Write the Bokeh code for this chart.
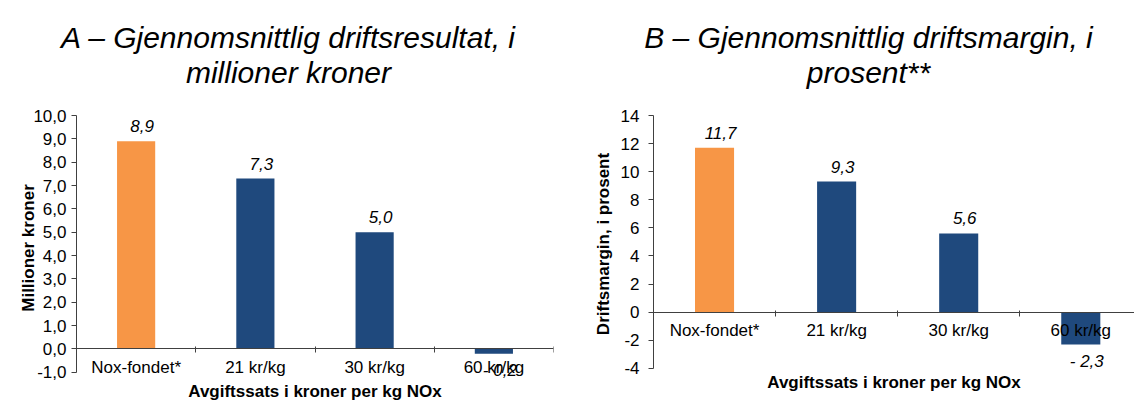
from bokeh.plotting import figure
from bokeh.models import ColumnDataSource, Range1d, LinearAxis, FixedTicker
from bokeh.layouts import row, column
from bokeh.embed import file_html
from bokeh.resources import INLINE
from bokeh.core.properties import value

# ---- data ----
categories = ["Nox-fondet*", "21 kr/kg", "30 kr/kg", "60 kr/kg"]
driftsresultat = [8.9, 7.3, 5.0, -0.2]      # millioner kroner
driftsmargin = [11.7, 9.3, 5.6, -2.3]       # prosent
resultat_ticks = [-1, 0, 1, 2, 3, 4, 5, 6, 7, 8, 9, 10]
margin_ticks = [-4, -2, 0, 2, 4, 6, 8, 10, 12, 14]
title_a = ["A – Gjennomsnittlig driftsresultat, i", "millioner kroner"]
title_b = ["B – Gjennomsnittlig driftsmargin, i", "prosent**"]
ylabel_a = "Millioner kroner"
ylabel_b = "Driftsmargin, i prosent"
xlabel = "Avgiftssats i kroner per kg NOx"

# ---- style ----
bar_colors = ["#F79646", "#1F497D", "#1F497D", "#1F497D"]
FONT = "Liberation Sans"
AXIS = "#404040"
W = 1134         # total width
H = 403          # total height
TH = 90          # height of the title strip
TOP = 115        # y pixel of the top of the plot frames
WA, WB = 590, 544


def fmt_value(v):
    s = f"{abs(v):.1f}".replace(".", ",")
    return "- " + s if v < 0 else s


def make_titles(blocks):
    """One strip holding both chart titles; blocks = [(lines, centre_x), ...]."""
    t = figure(width=W, height=TH, x_range=Range1d(0, W),
               y_range=Range1d(0, TH), output_backend="svg",
               toolbar_location=None, x_axis_location=None,
               y_axis_location=None, min_border_left=0, min_border_right=0,
               min_border_top=0, min_border_bottom=0)
    t.outline_line_color = None
    t.grid.visible = False
    baselines = [37, 72]
    xs, ys, texts = [], [], []
    for lines, cx in blocks:
        for line, b in zip(lines, baselines):
            xs.append(cx)
            ys.append(TH - b)
            texts.append(line)
    t.text(x=xs, y=ys, text=texts, text_align="center",
           text_baseline="alphabetic", text_font=value(FONT),
           text_font_size="30px", text_font_style="italic",
           text_color="#000000")
    return t


def make_chart(vals, ticks, tick_fmt, ylabel, ystart, yend, ylow,
               xend, width, bl, br, bb, xlabel_standoff, ylabel_standoff,
               ytick_standoff, xtick_standoff):
    n = len(categories)
    p = figure(width=width, height=H - TH, x_range=Range1d(0, xend),
               y_range=Range1d(ylow, yend), output_backend="svg",
               toolbar_location=None, x_axis_location=None,
               min_border_left=bl, min_border_right=br,
               min_border_top=TOP - TH, min_border_bottom=bb)
    p.outline_line_color = None
    p.grid.visible = False
    p.background_fill_color = "white"
    p.border_fill_color = "white"

    xs = [i + 0.5 for i in range(n)]
    src = ColumnDataSource(dict(
        x=xs, top=vals, color=bar_colors,
        label=[fmt_value(v) for v in vals],
        yoff=[-15 if v >= 0 else 17 for v in vals]))
    p.vbar(x="x", top="top", bottom=0, width=0.32, fill_color="color",
           line_color=None, source=src)
    p.text(x="x", y="top", text="label", x_offset=6, y_offset="yoff",
           text_align="center", text_baseline="middle",
           text_font=value(FONT), text_font_style="italic",
           text_font_size="17px", text_color="#000000", source=src)

    ya = p.yaxis[0]
    ya.bounds = (ystart, yend)
    ya.ticker = FixedTicker(ticks=ticks)
    ya.major_label_overrides = {t: tick_fmt(t) for t in ticks}
    ya.major_label_text_font = FONT
    ya.major_label_text_font_size = "17px"
    ya.major_label_text_color = "#000000"
    ya.major_label_standoff = ytick_standoff
    ya.axis_line_color = AXIS
    ya.major_tick_line_color = AXIS
    ya.major_tick_out = 5
    ya.major_tick_in = 0
    ya.minor_tick_line_color = None
    ya.axis_label = ylabel
    ya.axis_label_text_font = FONT
    ya.axis_label_text_font_size = "17px"
    ya.axis_label_text_font_style = "bold"
    ya.axis_label_text_color = "#000000"
    ya.axis_label_standoff = ylabel_standoff

    # category axis drawn at y = 0, ticks between categories
    xa = LinearAxis(fixed_location=0,
                    ticker=FixedTicker(ticks=xs, minor_ticks=list(range(n + 1))),
                    major_label_overrides={x: c for x, c in zip(xs, categories)})
    xa.axis_line_color = AXIS
    xa.major_tick_line_color = None
    xa.major_tick_out = 0
    xa.major_tick_in = 0
    xa.minor_tick_line_color = AXIS
    xa.minor_tick_out = 4
    xa.minor_tick_in = 2
    xa.major_label_standoff = xtick_standoff
    xa.major_label_text_font = FONT
    xa.major_label_text_font_size = "17px"
    xa.major_label_text_color = "#000000"
    p.add_layout(xa, "below")

    # x-axis title below the frame
    xt = LinearAxis(ticker=FixedTicker(ticks=[]), axis_label=xlabel)
    xt.axis_line_color = None
    xt.major_tick_line_color = None
    xt.minor_tick_line_color = None
    xt.major_tick_out = 0
    xt.major_tick_in = 0
    xt.minor_tick_out = 0
    xt.minor_tick_in = 0
    xt.major_label_standoff = 0
    xt.major_label_text_font_size = "0px"
    xt.axis_label_standoff = xlabel_standoff
    xt.axis_label_text_font = FONT
    xt.axis_label_text_font_size = "17px"
    xt.axis_label_text_font_style = "bold"
    xt.axis_label_text_color = "#000000"
    p.add_layout(xt, "below")
    return p


titles = make_titles([(title_a, 288), (title_b, 868)])
pa = make_chart(driftsresultat, resultat_ticks,
                lambda t: f"{t:.1f}".replace(".", ","), ylabel_a, -1, 10, -1.35,
                xend=4, width=WA, bl=76, br=37, bb=22, xlabel_standoff=1,
                ylabel_standoff=-8, ytick_standoff=5, xtick_standoff=5)
pb = make_chart(driftsmargin, margin_ticks,
                lambda t: str(t), ylabel_b, -4, 14, -4.3,
                xend=3.94, width=WB, bl=63, br=0, bb=31, xlabel_standoff=0,
                ylabel_standoff=5, ytick_standoff=9, xtick_standoff=5)

layout = column(titles, row(column(pa), column(pb)))
open("out.html", "w").write(file_html(layout, INLINE))
